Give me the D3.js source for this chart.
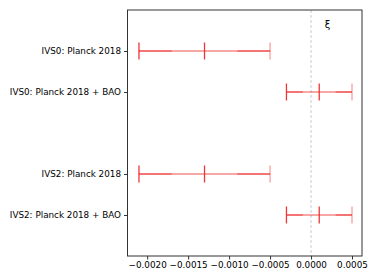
<!DOCTYPE html>
<html>
<head>
<meta charset="utf-8">
<script src="https://cdn.jsdelivr.net/npm/d3@7"></script>
<style>
  body { margin: 0; background: #fff; }
  text { font-family: "DejaVu Sans", sans-serif; }
</style>
</head>
<body>
<div id="chart"></div>
<script>
// Data
const labels = ["IVS0: Planck 2018", "IVS0: Planck 2018 + BAO", "IVS2: Planck 2018", "IVS2: Planck 2018 + BAO"];
const rows = [0, 1, 3, 4];
const centers = [-0.0013, 0.0001, -0.0013, 0.0001];
const lows = [-0.0021, -0.0003, -0.0021, -0.0003];
const highs = [-0.0005, 0.0005, -0.0005, 0.0005];
const inner = [0.0004, 0.0002, 0.0004, 0.0002]; // darker inner halves
const xTicks = [-0.0020, -0.0015, -0.0010, -0.0005, 0.0000, 0.0005];

const W = 374, H = 280;
const margin = { top: 10, right: 12, bottom: 24, left: 127.5 };

const svg = d3.select("#chart").append("svg")
  .attr("width", W).attr("height", H);

const x = d3.scaleLinear().domain([-0.00224, 0.000622]).range([margin.left, W - margin.right]);
const y = d3.scaleLinear().domain([-1, 5]).range([margin.top, H - margin.bottom]);

const data = labels.map((d, i) => ({
  label: d, row: rows[i], c: centers[i], lo: lows[i], hi: highs[i], inn: inner[i]
}));

// zero line
svg.append("line")
  .attr("x1", x(0)).attr("x2", x(0))
  .attr("y1", y(-1)).attr("y2", y(5))
  .attr("stroke", "#cccccc").attr("stroke-width", 1)
  .attr("stroke-dasharray", "3,2");

svg.append("text")
  .attr("x", x(0.0002)).attr("y", y(-0.55))
  .attr("text-anchor", "middle")
  .style("font-size", "10px")
  .text("ξ");

const red = "#ee2a2a";
const g = svg.append("g").selectAll("g").data(data).join("g");

// full bar, lighter
g.append("line")
  .attr("x1", d => x(d.lo)).attr("x2", d => x(d.hi))
  .attr("y1", d => y(d.row)).attr("y2", d => y(d.row))
  .attr("stroke", red).attr("stroke-opacity", 0.55).attr("stroke-width", 1.5);
// outer darker parts
g.append("line")
  .attr("x1", d => x(d.lo)).attr("x2", d => x(d.lo + d.inn))
  .attr("y1", d => y(d.row)).attr("y2", d => y(d.row))
  .attr("stroke", red).attr("stroke-opacity", 0.55).attr("stroke-width", 1.5);
g.append("line")
  .attr("x1", d => x(d.hi - d.inn)).attr("x2", d => x(d.hi))
  .attr("y1", d => y(d.row)).attr("y2", d => y(d.row))
  .attr("stroke", red).attr("stroke-opacity", 0.55).attr("stroke-width", 1.5);

// caps
[["lo", 0.95], ["c", 0.95], ["hi", 0.45]].forEach(([k, op]) => {
  g.append("line")
    .attr("x1", d => x(d[k])).attr("x2", d => x(d[k]))
    .attr("y1", d => y(d.row) - 8.5).attr("y2", d => y(d.row) + 8.5)
    .attr("stroke", red).attr("stroke-opacity", op).attr("stroke-width", 1.3);
});

// axes
const xAxis = svg.append("g")
  .attr("transform", `translate(0,${H - margin.bottom})`)
  .call(d3.axisBottom(x).tickValues(xTicks).tickSize(3.5).tickPadding(2.5)
    .tickFormat(d => d3.format(".4f")(d).replace("-", "\u2212")));
xAxis.select(".domain").remove();
xAxis.selectAll("text").style("font-size", "8.8px").attr("fill", "#000");
xAxis.selectAll("line").attr("stroke", "#333");

const yAxis = svg.append("g")
  .attr("transform", `translate(${margin.left},0)`)
  .call(d3.axisLeft(y).tickValues(rows).tickSize(3.5).tickPadding(3)
    .tickFormat((d, i) => labels[i]));
yAxis.select(".domain").remove();
yAxis.selectAll("text").style("font-size", "8.8px").attr("fill", "#000");
yAxis.selectAll("line").attr("stroke", "#333");

// frame
svg.append("rect")
  .attr("x", margin.left).attr("y", margin.top)
  .attr("width", W - margin.left - margin.right)
  .attr("height", H - margin.top - margin.bottom)
  .attr("fill", "none").attr("stroke", "#333").attr("stroke-width", 1);
</script>
</body>
</html>
